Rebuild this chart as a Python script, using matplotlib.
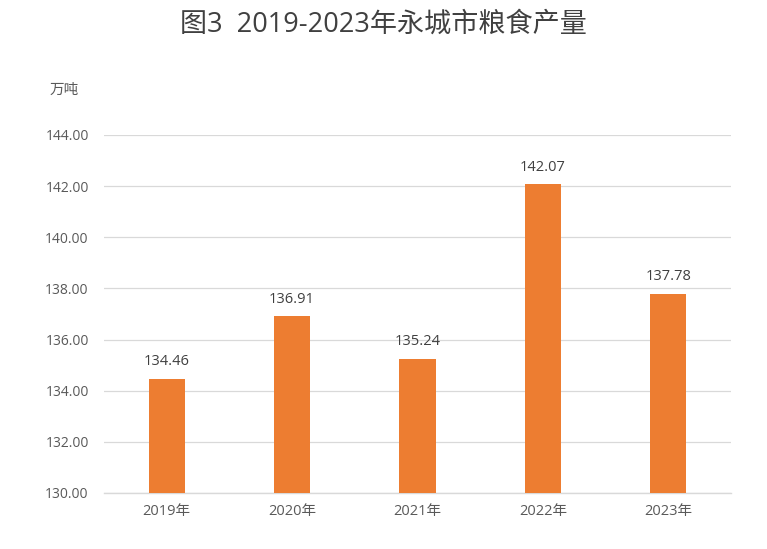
import matplotlib
matplotlib.use("Agg")
import matplotlib.pyplot as plt

plt.rcParams['font.family'] = ['Open Sans', 'Noto Sans CJK SC', 'DejaVu Sans']

years = ["2019年", "2020年", "2021年", "2022年", "2023年"]
values = [134.46, 136.91, 135.24, 142.07, 137.78]
yticks = [130, 132, 134, 136, 138, 140, 142, 144]

fig = plt.figure(figsize=(7.67, 5.49), dpi=100)
ax = fig.add_axes([104/767, 1-493/549, (731-104)/767, (493-135)/549])

x = range(len(years))
bars = ax.bar(x, values, width=0.29, color="#ED7D31", zorder=3)
ax.set_ylim(130, 144)
ax.set_xlim(-0.5, len(years)-0.5)
ax.set_yticks(yticks)
ax.set_yticklabels([f"{v:.2f}" for v in yticks], fontsize=10, color="#595959")
ax.set_xticks(list(x))
ax.set_xticklabels(years, fontsize=10.5, color="#595959")
ax.tick_params(axis='both', length=0)
ax.tick_params(axis='y', pad=11)
ax.tick_params(axis='x', pad=8)
ax.grid(axis='y', color="#D9D9D9", linewidth=0.9, zorder=0)
for s in ['left', 'right', 'top']:
    ax.spines[s].set_visible(False)
ax.spines['bottom'].set_color("#D9D9D9")
ax.spines['bottom'].set_linewidth(1.0)

for b, v in zip(bars, values):
    ax.annotate(f"{v:.2f}", (b.get_x()+b.get_width()/2, v), xytext=(0, 7),
                textcoords="offset points", ha="center", va="bottom",
                fontsize=10.5, color="#404040")

fig.text(383/767, 1-25/549, "图3  2019-2023年永城市粮食产量", ha="center", va="center",
         fontsize=19.5, color="#404040")
fig.text(50/767, 1-90/549, "万吨", ha="left", va="center", fontsize=10.5, color="#595959")

fig.savefig("out.png", dpi=100)
